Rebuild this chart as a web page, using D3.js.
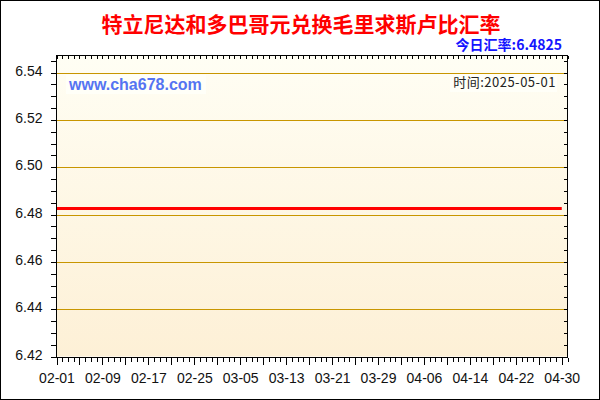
<!DOCTYPE html>
<html lang="zh">
<head>
  <meta charset="UTF-8">
  <title>特立尼达和多巴哥元兑换毛里求斯卢比汇率</title>
  <script src="https://d3js.org/d3.v7.min.js"></script>
  <style>
    body { margin: 0; background: #fff; }
    .axis text { font-family: "Liberation Sans", Arial, sans-serif; font-size: 14px; fill: #111; }
    .axis path { display: none; }
    .axis line { stroke: #000; shape-rendering: crispEdges; }
    .gridline { stroke: #c89600; stroke-width: 1; shape-rendering: crispEdges; }
  </style>
</head>
<body>
  <script>
    // Data
    const title = "特立尼达和多巴哥元兑换毛里求斯卢比汇率";
    const todayText = "今日汇率:6.4825";
    const timeText = "时间:2025-05-01";
    const siteText = "www.cha678.com";

    const startDate = new Date(Date.UTC(2025, 1, 1));   // 02-01
    const endDate = new Date(Date.UTC(2025, 4, 1));     // 05-01 (axis end)

    // daily rate, 02-01 .. 04-30
    const values = [
      6.4825, 6.4825, 6.4825, 6.4825, 6.4825, 6.4825, 6.4825, 6.4825, 6.4825, 6.4825,
      6.4825, 6.4825, 6.4825, 6.4825, 6.4825, 6.4825, 6.4825, 6.4825, 6.4825, 6.4825,
      6.4825, 6.4825, 6.4825, 6.4825, 6.4825, 6.4825, 6.4825, 6.4825, 6.4825, 6.4825,
      6.4825, 6.4825, 6.4825, 6.4825, 6.4825, 6.4825, 6.4825, 6.4825, 6.4825, 6.4825,
      6.4825, 6.4825, 6.4825, 6.4825, 6.4825, 6.4825, 6.4825, 6.4825, 6.4825, 6.4825,
      6.4825, 6.4825, 6.4825, 6.4825, 6.4825, 6.4825, 6.4825, 6.4825, 6.4825, 6.4825,
      6.4825, 6.4825, 6.4825, 6.4825, 6.4825, 6.4825, 6.4825, 6.4825, 6.4825, 6.4825,
      6.4825, 6.4825, 6.4825, 6.4825, 6.4825, 6.4825, 6.4825, 6.4825, 6.4825, 6.4825,
      6.4825, 6.4825, 6.4825, 6.4825, 6.4825, 6.4825, 6.4825, 6.4825, 6.4825
    ];

    const yTicks = [6.42, 6.44, 6.46, 6.48, 6.50, 6.52, 6.54];
    const yTickLabels = ["6.42", "6.44", "6.46", "6.48", "6.50", "6.52", "6.54"];
    const xTickLabels = ["02-01", "02-09", "02-17", "02-25", "03-05", "03-13",
                         "03-21", "03-29", "04-06", "04-14", "04-22", "04-30"];
    const yDomain = [6.42, 6.547];

    const W = 600, H = 400;
    const plotLeft = 56.5, plotRight = 567.5, plotTop = 56, plotBottom = 356.5;

    const svg = d3.select("body").append("svg")
      .attr("width", W).attr("height", H);

    // outer frame
    svg.append("rect")
      .attr("x", 0.5).attr("y", 0.5)
      .attr("width", W - 1).attr("height", H - 1)
      .attr("fill", "#fff").attr("stroke", "#000");

    // plot background gradient
    const grad = svg.append("defs").append("linearGradient")
      .attr("id", "bg").attr("x1", 0).attr("y1", 0).attr("x2", 0).attr("y2", 1);
    grad.append("stop").attr("offset", "0%").attr("stop-color", "#fffef4");
    grad.append("stop").attr("offset", "100%").attr("stop-color", "#fdf0d6");

    svg.append("rect")
      .attr("x", plotLeft).attr("y", plotTop)
      .attr("width", plotRight - plotLeft).attr("height", plotBottom - plotTop)
      .attr("fill", "url(#bg)");

    // scales
    const dates = values.map((v, i) => d3.utcDay.offset(startDate, i));
    const x = d3.scaleUtc().domain([startDate, endDate]).range([plotLeft, plotRight]);
    const y = d3.scaleLinear().domain(yDomain).range([plotBottom, plotTop]);

    // gridlines
    svg.append("g").selectAll("line")
      .data(yTicks)
      .enter().append("line")
      .attr("class", "gridline")
      .attr("x1", plotLeft).attr("x2", plotRight - 1)
      .attr("y1", d => Math.round(y(d)) + 0.5)
      .attr("y2", d => Math.round(y(d)) + 0.5);

    // labels with light boxes
    svg.append("rect")
      .attr("x", 66).attr("y", 75).attr("width", 140).attr("height", 19)
      .attr("fill", "#fffff8");
    svg.append("text")
      .attr("x", 69).attr("y", 90)
      .style("font-family", "'Liberation Sans', Arial, sans-serif")
      .style("font-size", "16px").style("font-weight", "bold")
      .attr("fill", "#5574f2")
      .text(siteText);

    svg.append("rect")
      .attr("x", 450).attr("y", 74).attr("width", 107).attr("height", 18)
      .attr("fill", "#fffff8");
    svg.append("text")
      .attr("x", 556).attr("y", 87)
      .attr("text-anchor", "end")
      .style("font-family", "'Noto Sans CJK SC', 'DejaVu Sans', sans-serif")
      .style("font-size", "13px")
      .style("letter-spacing", "0.5px")
      .attr("fill", "#222")
      .text(timeText);

    // rate line
    const line = d3.line()
      .x((d, i) => x(dates[i]))
      .y(d => y(d));
    svg.append("path")
      .datum(values)
      .attr("d", line)
      .attr("fill", "none")
      .attr("stroke", "#ff0000")
      .attr("stroke-width", 3);

    // y axis: minor ticks every 0.005, labelled every 0.02
    const yMinor = d3.range(0, 26).map(i => 6.42 + i * 0.005);
    svg.append("g").attr("class", "axis")
      .attr("transform", `translate(${plotLeft},0)`)
      .call(d3.axisLeft(y).tickValues(yMinor).tickSize(6).tickFormat(""));
    svg.append("g").attr("class", "axis")
      .attr("transform", `translate(${plotLeft},0)`)
      .call(d3.axisLeft(y).tickValues(yTicks).tickSize(6).tickPadding(8)
        .tickFormat((d, i) => yTickLabels[i]))
      .selectAll("text").attr("dy", "0.18em");
    // right side, inward ticks
    svg.append("g").attr("class", "axis")
      .attr("transform", `translate(${plotRight},0)`)
      .call(d3.axisLeft(y).tickValues(yMinor).tickSize(4).tickFormat(""));

    // x axis: daily ticks, longer every 4 days, labels every 8 days
    const allDays = d3.utcDay.range(startDate, d3.utcDay.offset(endDate, 1));
    const every4 = allDays.filter((d, i) => i % 4 === 0 && i <= 88);
    const every8 = allDays.filter((d, i) => i % 8 === 0 && i <= 88);
    svg.append("g").attr("class", "axis")
      .attr("transform", `translate(0,${plotBottom + 1})`)
      .call(d3.axisBottom(x).tickValues(allDays).tickSize(4).tickFormat(""));
    svg.append("g").attr("class", "axis")
      .attr("transform", `translate(0,${plotBottom + 1})`)
      .call(d3.axisBottom(x).tickValues(every4).tickSize(7).tickFormat(""));
    svg.append("g").attr("class", "axis")
      .attr("transform", `translate(0,${plotBottom + 1})`)
      .call(d3.axisBottom(x).tickValues(every8).tickSize(7).tickPadding(9)
        .tickFormat((d, i) => xTickLabels[i]));
    // top side, inward ticks
    svg.append("g").attr("class", "axis")
      .attr("transform", `translate(0,${plotTop})`)
      .call(d3.axisBottom(x).tickValues(allDays).tickSize(3).tickFormat(""));

    // plot frame
    svg.append("rect")
      .attr("x", plotLeft).attr("y", plotTop - 0.5)
      .attr("width", plotRight - plotLeft).attr("height", plotBottom - plotTop + 1.5)
      .attr("fill", "none").attr("stroke", "#000").attr("stroke-width", 1);

    // title
    svg.append("text")
      .attr("x", 301).attr("y", 32)
      .attr("text-anchor", "middle")
      .style("font-family", "'Noto Sans CJK SC', sans-serif")
      .style("font-size", "21px").style("font-weight", "bold")
      .attr("fill", "#ff0000")
      .text(title);

    svg.append("text")
      .attr("x", 562).attr("y", 50)
      .attr("text-anchor", "end")
      .style("font-family", "'Noto Sans CJK SC', sans-serif")
      .style("font-size", "14px").style("font-weight", "bold")
      .attr("fill", "#1414ff")
      .text(todayText);
  </script>
</body>
</html>
